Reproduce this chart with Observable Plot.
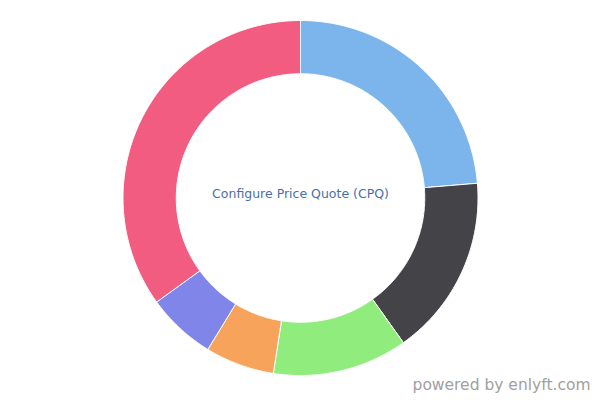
<!DOCTYPE html>
<html>
<head>
<meta charset="utf-8">
<script src="https://cdn.jsdelivr.net/npm/d3@7"></script>
<script src="https://cdn.jsdelivr.net/npm/@observablehq/plot@0.6"></script>
<style>
  html, body { margin: 0; padding: 0; background: #ffffff; }
  #chart { width: 600px; height: 400px; }
</style>
</head>
<body>
<div id="chart"></div>
<script>
const categories = ["Segment A", "Segment B", "Segment C", "Segment D", "Segment E", "Segment F"];
const shares = [23.7, 16.5, 12.3, 6.3, 6.3, 35.0];
const colors = ["#7cb5ec", "#434348", "#90ed7d", "#f7a35c", "#8085e9", "#f15c80"];
const centerLabel = "Configure Price Quote (CPQ)";
const creditLabel = "powered by enlyft.com";

const outerR = 177.5;
const innerR = outerR * 0.7;

const arcs = d3.pie().sort(null).value(d => d.value)(
  categories.map((name, i) => ({ name, value: shares[i] }))
);

const points = [];
for (const a of arcs) {
  const n = Math.max(8, Math.ceil((a.endAngle - a.startAngle) / 0.01));
  const ring = [];
  for (let k = 0; k <= n; k++) {
    const t = a.startAngle + (a.endAngle - a.startAngle) * k / n;
    ring.push({ name: a.data.name, x: outerR * Math.sin(t), y: outerR * Math.cos(t) });
  }
  for (let k = n; k >= 0; k--) {
    const t = a.startAngle + (a.endAngle - a.startAngle) * k / n;
    ring.push({ name: a.data.name, x: innerR * Math.sin(t), y: innerR * Math.cos(t) });
  }
  ring.push(ring[0]);
  points.push(...ring);
}

const chart = Plot.plot({
  width: 600,
  height: 400,
  margin: 0,
  style: { background: "#ffffff", overflow: "visible" },
  x: { domain: [-300, 300], axis: null },
  y: { domain: [-202.5, 197.5], axis: null },
  color: { domain: categories, range: colors },
  marks: [
    Plot.line(points, {
      x: "x", y: "y", z: "name",
      fill: "name",
      stroke: "#ffffff",
      strokeWidth: 1,
      strokeLinejoin: "round",
      curve: "linear-closed"
    }),
    Plot.text([centerLabel], {
      text: d => d,
      frameAnchor: "middle",
      dy: -7,
      fill: "#4a6fa8",
      fontSize: 12.5,
      fontFamily: "DejaVu Sans, sans-serif"
    }),
    Plot.text([creditLabel], {
      text: d => d,
      frameAnchor: "bottom-right",
      textAnchor: "end",
      dx: -10,
      dy: -11,
      fill: "#a0a0a0",
      fontSize: 15.5,
      fontFamily: "DejaVu Sans, sans-serif"
    })
  ]
});

document.getElementById("chart").appendChild(chart);
</script>
</body>
</html>
